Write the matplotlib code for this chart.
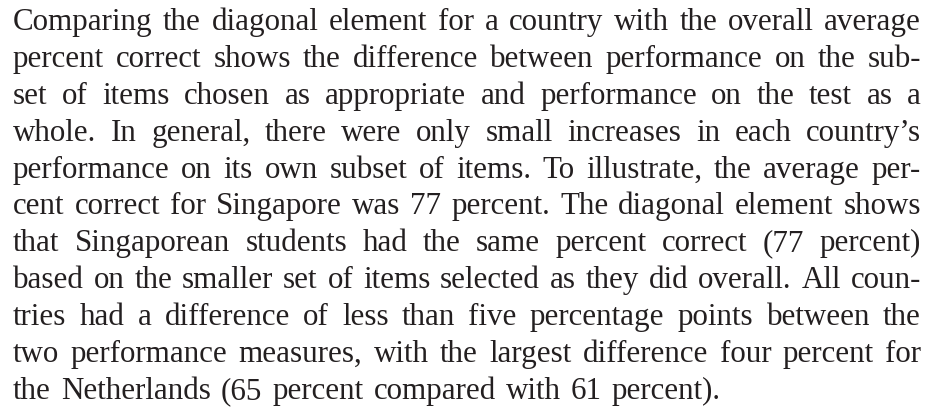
import matplotlib
matplotlib.use("Agg")
import matplotlib.pyplot as plt

# Paragraph text, one entry per typeset line (justified except the last)
lines = [
    "Comparing the diagonal element for a country with the overall average",
    "percent correct shows the difference between performance on the sub-",
    "set of items chosen as appropriate and performance on the test as a",
    "whole. In general, there were only small increases in each country\u2019s",
    "performance on its own subset of items. To illustrate, the average per-",
    "cent correct for Singapore was 77 percent. The diagonal element shows",
    "that Singaporean students had the same percent correct (77 percent)",
    "based on the smaller set of items selected as they did overall. All coun-",
    "tries had a difference of less than five percentage points between the",
    "two performance measures, with the largest difference four percent for",
    "the Netherlands (65 percent compared with 61 percent).",
]

W, H = 934, 410
DPI = 100
LEFT, RIGHT = 13, 921
FIRST_BASE, LEADING = 30.0, 36.9
FAMILY = "Liberation Serif"
COLOR = "#231f20"
SIZE = 22.3

fig = plt.figure(figsize=(W / DPI, H / DPI), dpi=DPI)
fig.patch.set_facecolor("white")
renderer = fig.canvas.get_renderer()


def width_px(s, size):
    t = fig.text(0, 0, s, fontsize=size, family=FAMILY)
    w = t.get_window_extent(renderer).width
    t.remove()
    return w


space_nat = (width_px("a a", SIZE) - width_px("aa", SIZE)) * 1.3

for i, line in enumerate(lines):
    y = 1 - (FIRST_BASE + i * LEADING) / H
    words = line.split(" ")
    widths = [width_px(w, SIZE) for w in words]
    if i < len(lines) - 1 and len(words) > 1:
        gap = (RIGHT - LEFT - sum(widths)) / (len(words) - 1)
    else:
        gap = space_nat
    x = LEFT
    for w, wd in zip(words, widths):
        fig.text(x / W, y, w, fontsize=SIZE, family=FAMILY, color=COLOR,
                 ha="left", va="baseline")
        x += wd + gap

fig.savefig("out.png", dpi=DPI, facecolor="white")
